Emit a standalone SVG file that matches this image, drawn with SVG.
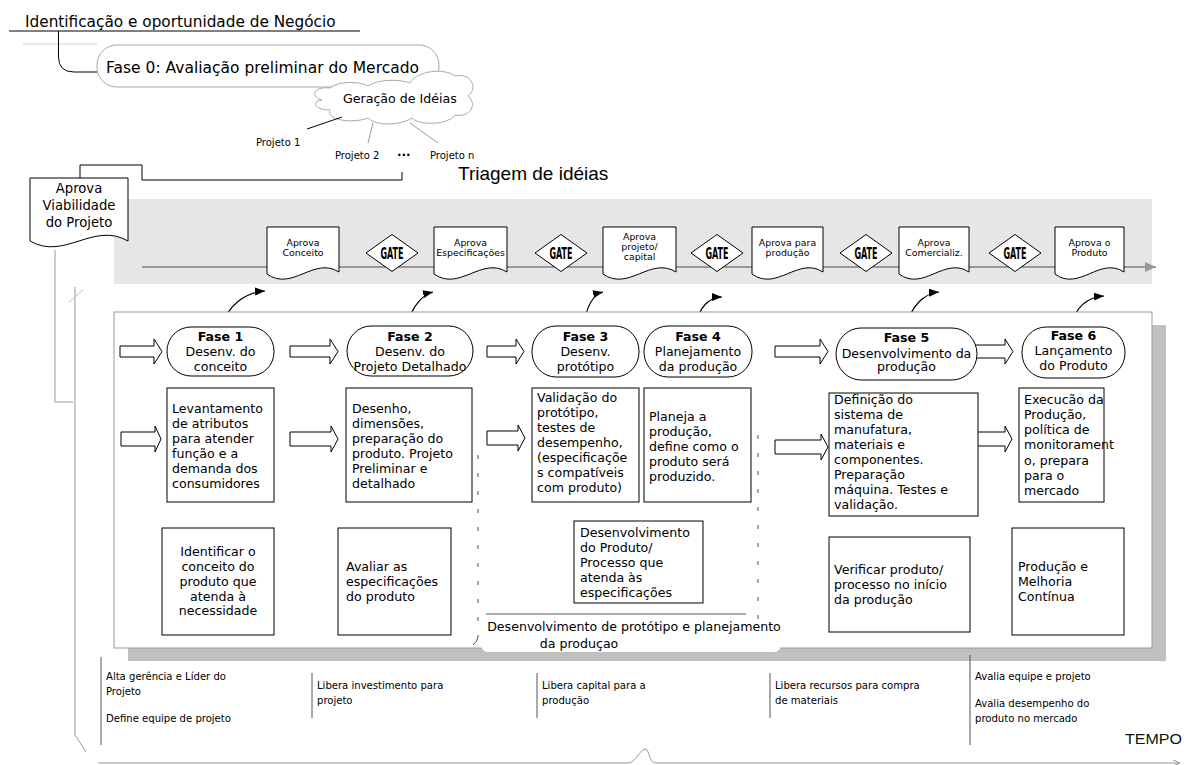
<svg xmlns="http://www.w3.org/2000/svg" width="1188" height="765" viewBox="0 0 1188 765">
  <style>
    .t { font-family: "DejaVu Sans", Verdana, sans-serif; fill: #000; }
    .node { font-size: 12.6px; }
    .doc { font-size: 9.4px; }
    .small { font-size: 10px; }
    .note { font-family: "DejaVu Sans Condensed", "DejaVu Sans", sans-serif; font-size: 11.2px; fill: #000; }
    .box { fill: #fff; stroke: #000; stroke-width: 1; }
    .stad { fill: #fff; stroke: #000; stroke-width: 1; }
    .docshape { fill: #fff; stroke: #000; stroke-width: 1; }
    .gate { fill: #fff; stroke: #000; stroke-width: 1; }
    .gtxt { font-family: "DejaVu Sans Condensed", "DejaVu Sans", sans-serif; font-weight: bold; font-size: 15.5px; }
    .barrow { fill: #fff; stroke: #000; stroke-width: 1; }
    .gray { fill: none; stroke: #999; stroke-width: 1; }
    .dark { fill: none; stroke: #000; stroke-width: 1; }
    .curve { fill: none; stroke: #000; stroke-width: 1.2; }
  </style>
  <defs>
    <marker id="tip" markerWidth="11" markerHeight="9" refX="10" refY="4" orient="auto" markerUnits="userSpaceOnUse">
      <path d="M0,0 L10,4 L0,8 Z" fill="#000"/>
    </marker>
    <marker id="gtip" markerWidth="12" markerHeight="11" refX="11" refY="5" orient="auto" markerUnits="userSpaceOnUse">
      <path d="M0,0 L11,5 L0,10 Z" fill="#999"/>
    </marker>
    <marker id="ltip" markerWidth="8" markerHeight="7" refX="7" refY="3" orient="auto" markerUnits="userSpaceOnUse">
      <path d="M0,0 L7,3 L0,6" fill="none" stroke="#999"/>
    </marker>
  </defs>

  <!-- header: business opportunity -->
  <g id="header">
    <text class="t" x="25" y="27" font-size="15.3">Identificação e oportunidade de Negócio</text>
    <line x1="9" y1="31" x2="360" y2="31" stroke="#000" stroke-width="1"/>
    <line x1="23" y1="44" x2="97" y2="44" stroke="#ccc" stroke-width="1"/>
  </g>

  <g id="fase0">
    <rect x="97" y="45" width="342" height="42" rx="20" ry="20" fill="#fff" stroke="#aaa" stroke-width="1"/>
    <text class="t" x="106" y="73" font-size="15.5">Fase 0: Avaliação preliminar do Mercado</text>
  </g>

  <g id="ideias">
    <path d="M322,100 C309,96 314,86 330,88 C338,81 360,81 368,86 C378,79 400,79 410,83 C418,70 445,68 455,76 C470,72 479,88 468,96 C478,104 470,118 455,115 C448,125 420,126 412,118 C400,126 375,126 368,118 C352,124 326,120 330,110 C314,110 311,101 322,100 Z" fill="#fff" stroke="#aaa" stroke-width="1"/>
    <text class="t" x="343" y="103" font-size="12.6">Geração de Idéias</text>
  </g>

  <g id="projetos">
    <line x1="307" y1="129" x2="342" y2="117" stroke="#000" stroke-width="1"/>
    <line x1="373" y1="123" x2="368" y2="143" stroke="#999" stroke-width="1"/>
    <line x1="410" y1="123" x2="438" y2="143" stroke="#999" stroke-width="1"/>
    <text class="t small" x="256" y="146">Projeto 1</text>
    <text class="t small" x="335" y="159">Projeto 2</text>
    <text class="t" x="397" y="156" font-size="12" font-weight="bold">...</text>
    <text class="t small" x="430" y="159">Projeto n</text>
  </g>

  <text id="triagem" x="458" y="180" font-family="'Liberation Sans', Arial, sans-serif" font-size="19">Triagem de idéias</text>

  <!-- gate band -->
  <g id="gate-band">
    <rect x="114" y="199" width="1038" height="85" fill="#e6e6e6"/>
    <line x1="142" y1="267" x2="1156" y2="267" stroke="#999" stroke-width="2" marker-end="url(#gtip)"/>
  </g>

  <!-- connectors -->
  <g id="connectors">
    <path class="dark" d="M58.5,31 V57 Q58.5,72 74,72 H97"/>
    <path class="dark" d="M402,172 V180 H142 V165 H80 V178"/>
    <path class="gray" d="M55,250 V402 H73"/>
    <path class="gray" d="M75,287 V735 L86,752"/>
    <line x1="69" y1="302" x2="83" y2="290" stroke="#bbb" stroke-width="1"/>
    <path class="curve" d="M222,326 C228,305 246,292 265,291" marker-end="url(#tip)"/>
    <path class="curve" d="M408,325 C411,306 424,294 433,292" marker-end="url(#tip)"/>
    <path class="curve" d="M585,325 C585,307 594,294 603,292" marker-end="url(#tip)"/>
    <path class="curve" d="M697,325 C698,307 710,297 722,297" marker-end="url(#tip)"/>
    <path class="curve" d="M907,327 C910,306 925,293 939,292" marker-end="url(#tip)"/>
    <path class="curve" d="M1072,327 C1074,307 1088,297 1104,296" marker-end="url(#tip)"/>
  </g>

  <!-- approval document: viability -->
  <g id="viabilidade">
    <path class="docshape" d="M30,178 H128 V241 C93.7,221 64.3,261 30,241 Z"/>
    <text class="t" x="79" y="193" font-size="13.2" text-anchor="middle">Aprova</text>
    <text class="t" x="79" y="210" font-size="13.2" text-anchor="middle">Viabilidade</text>
    <text class="t" x="79" y="227" font-size="13.2" text-anchor="middle">do Projeto</text>
  </g>

  <g id="doc1">
    <path class="docshape" d="M267,227 H339 V272 C313.8,256 292.2,292 267,274 Z"/>
    <text class="t doc" x="303" y="246" text-anchor="middle">Aprova</text>
    <text class="t doc" x="303" y="256" text-anchor="middle">Conceito</text>
  </g>
  <g id="gate1">
    <polygon class="gate" points="366,253 392,234.5 418,253 392,271.5"/>
    <text class="gtxt" x="392" y="258.5" text-anchor="middle" textLength="23" lengthAdjust="spacingAndGlyphs">GATE</text>
  </g>
  <g id="doc2">
    <path class="docshape" d="M434,227 H507 V272 C481.5,256 459.5,292 434,274 Z"/>
    <text class="t doc" x="470.5" y="246" text-anchor="middle">Aprova</text>
    <text class="t doc" x="470.5" y="256" text-anchor="middle">Especificações</text>
  </g>
  <g id="gate2">
    <polygon class="gate" points="535,253 561,234.5 587,253 561,271.5"/>
    <text class="gtxt" x="561" y="258.5" text-anchor="middle" textLength="23" lengthAdjust="spacingAndGlyphs">GATE</text>
  </g>
  <g id="doc3">
    <path class="docshape" d="M603,227 H676 V272 C650.5,256 628.5,292 603,274 Z"/>
    <text class="t doc" x="639.5" y="240" text-anchor="middle">Aprova</text>
    <text class="t doc" x="639.5" y="250" text-anchor="middle">projeto/</text>
    <text class="t doc" x="639.5" y="260" text-anchor="middle">capital</text>
  </g>
  <g id="gate3">
    <polygon class="gate" points="691,253 717,234.5 743,253 717,271.5"/>
    <text class="gtxt" x="717" y="258.5" text-anchor="middle" textLength="23" lengthAdjust="spacingAndGlyphs">GATE</text>
  </g>
  <g id="doc4">
    <path class="docshape" d="M752,227 H823 V272 C798.1,256 776.9,292 752,274 Z"/>
    <text class="t doc" x="787.5" y="246" text-anchor="middle">Aprova para</text>
    <text class="t doc" x="787.5" y="256" text-anchor="middle">produção</text>
  </g>
  <g id="gate4">
    <polygon class="gate" points="840,253 866,234.5 892,253 866,271.5"/>
    <text class="gtxt" x="866" y="258.5" text-anchor="middle" textLength="23" lengthAdjust="spacingAndGlyphs">GATE</text>
  </g>
  <g id="doc5">
    <path class="docshape" d="M899,227 H969 V272 C944.5,256 923.5,292 899,274 Z"/>
    <text class="t doc" x="934" y="246" text-anchor="middle">Aprova</text>
    <text class="t doc" x="934" y="256" text-anchor="middle">Comercializ.</text>
  </g>
  <g id="gate5">
    <polygon class="gate" points="989,253 1015,234.5 1041,253 1015,271.5"/>
    <text class="gtxt" x="1015" y="258.5" text-anchor="middle" textLength="23" lengthAdjust="spacingAndGlyphs">GATE</text>
  </g>
  <g id="doc6">
    <path class="docshape" d="M1055,227 H1124 V272 C1099.8,256 1079.2,292 1055,274 Z"/>
    <text class="t doc" x="1089.5" y="246" text-anchor="middle">Aprova o</text>
    <text class="t doc" x="1089.5" y="256" text-anchor="middle">Produto</text>
  </g>

  <!-- main process panel with shadow -->
  <g id="panel">
    <rect x="128" y="325" width="1038" height="336" fill="#c0c0c0"/>
    <rect x="114" y="312" width="1038" height="336" fill="#fff" stroke="#999" stroke-width="1"/>
  </g>

  <!-- prototype / production-planning zone -->
  <g id="zona-prototipo">
    <rect x="481" y="616" width="300" height="36" rx="7" fill="#fff"/>
    <line x1="478" y1="455" x2="478" y2="637" stroke="#555" stroke-width="1" stroke-dasharray="4,14"/>
    <path d="M478,637 Q477,642 473,645" fill="none" stroke="#555" stroke-width="1"/>
    <line x1="758" y1="435" x2="758" y2="620" stroke="#555" stroke-width="1" stroke-dasharray="4,14"/>
    <line x1="486" y1="614" x2="746" y2="614" stroke="#555" stroke-width="1"/>
    <text class="t node" x="634" y="631" text-anchor="middle">Desenvolvimento de protótipo e planejamento</text>
    <text class="t node" x="579" y="648" text-anchor="middle">da produçao</text>
  </g>

  <!-- hollow flow arrows -->
  <g id="flow-arrows">
    <polygon class="barrow" points="120,346 154,346 154,339 162,351.5 154,364 154,357 120,357"/>
    <polygon class="barrow" points="290,346 330,346 330,339 338,351.5 330,364 330,357 290,357"/>
    <polygon class="barrow" points="487,346 516,346 516,339 524,351.5 516,364 516,357 487,357"/>
    <polygon class="barrow" points="775,346 820,346 820,339 828,351.5 820,364 820,357 775,357"/>
    <polygon class="barrow" points="972,345 1005,345 1005,339 1013,351.5 1005,364 1005,358 972,358"/>
    <polygon class="barrow" points="121,432 155,432 155,426 161,439 155,452 155,446 121,446"/>
    <polygon class="barrow" points="290,432 331,432 331,426 338,439 331,452 331,446 290,446"/>
    <polygon class="barrow" points="487,431 518,431 518,425 525,438 518,451 518,445 487,445"/>
    <polygon class="barrow" points="775,440 821,440 821,434 828,447 821,460 821,454 775,454"/>
    <polygon class="barrow" points="977,432 1005,432 1005,426 1012,439 1005,452 1005,446 977,446"/>
  </g>

  <!-- phases -->
  <g id="fase1">
    <rect class="stad" x="167" y="327" width="107" height="49" rx="24" ry="24"/>
    <text class="t node" x="220.5" y="341" text-anchor="middle" font-weight="bold">Fase 1</text>
    <text class="t node" x="220.5" y="356" text-anchor="middle">Desenv. do</text>
    <text class="t node" x="220.5" y="371" text-anchor="middle">conceito</text>
  </g>
  <g id="fase2">
    <rect class="stad" x="347" y="326" width="126" height="50" rx="24" ry="25"/>
    <text class="t node" x="410" y="341" text-anchor="middle" font-weight="bold">Fase 2</text>
    <text class="t node" x="410" y="356" text-anchor="middle">Desenv. do</text>
    <text class="t node" x="410" y="371" text-anchor="middle">Projeto Detalhado</text>
  </g>
  <g id="fase3">
    <rect class="stad" x="532" y="326" width="107" height="51" rx="24" ry="25"/>
    <text class="t node" x="585.5" y="341" text-anchor="middle" font-weight="bold">Fase 3</text>
    <text class="t node" x="585.5" y="356" text-anchor="middle">Desenv.</text>
    <text class="t node" x="585.5" y="371" text-anchor="middle">protótipo</text>
  </g>
  <g id="fase4">
    <rect class="stad" x="644" y="326" width="108" height="51" rx="24" ry="25"/>
    <text class="t node" x="698" y="341" text-anchor="middle" font-weight="bold">Fase 4</text>
    <text class="t node" x="698" y="356" text-anchor="middle">Planejamento</text>
    <text class="t node" x="698" y="371" text-anchor="middle">da produção</text>
  </g>
  <g id="fase5">
    <rect class="stad" x="836" y="328" width="141" height="52" rx="25" ry="26"/>
    <text class="t node" x="906.5" y="342" text-anchor="middle" font-weight="bold">Fase 5</text>
    <text class="t node" x="906.5" y="358" text-anchor="middle">Desenvolvimento da</text>
    <text class="t node" x="906.5" y="371" text-anchor="middle">produção</text>
  </g>
  <g id="fase6">
    <rect class="stad" x="1022" y="327" width="103" height="51" rx="24" ry="25"/>
    <text class="t node" x="1073.5" y="340" text-anchor="middle" font-weight="bold">Fase 6</text>
    <text class="t node" x="1073.5" y="355" text-anchor="middle">Lançamento</text>
    <text class="t node" x="1073.5" y="370" text-anchor="middle">do Produto</text>
  </g>

  <!-- activity boxes -->
  <g id="atividade1">
    <rect class="box" x="167" y="388" width="107" height="114"/>
    <text class="t node" x="172" y="413">Levantamento</text>
    <text class="t node" x="172" y="428">de atributos</text>
    <text class="t node" x="172" y="443">para  atender</text>
    <text class="t node" x="172" y="458">função e a</text>
    <text class="t node" x="172" y="473">demanda dos</text>
    <text class="t node" x="172" y="488">consumidores</text>
  </g>
  <g id="atividade2">
    <rect class="box" x="346" y="388" width="126" height="114"/>
    <text class="t node" x="352" y="413">Desenho,</text>
    <text class="t node" x="352" y="428">dimensões,</text>
    <text class="t node" x="352" y="443">preparação do</text>
    <text class="t node" x="352" y="458">produto. Projeto</text>
    <text class="t node" x="352" y="473">Preliminar e</text>
    <text class="t node" x="352" y="488">detalhado</text>
  </g>
  <g id="atividade3">
    <rect class="box" x="532" y="388" width="107" height="114"/>
    <text class="t node" x="537" y="402">Validação do</text>
    <text class="t node" x="537" y="417">protótipo,</text>
    <text class="t node" x="537" y="432">testes de</text>
    <text class="t node" x="537" y="447">desempenho,</text>
    <text class="t node" x="537" y="462">(especificaçõe</text>
    <text class="t node" x="537" y="477">s compatíveis</text>
    <text class="t node" x="537" y="492">com  produto)</text>
  </g>
  <g id="atividade4">
    <rect class="box" x="644" y="388" width="107" height="114"/>
    <text class="t node" x="649" y="421">Planeja a</text>
    <text class="t node" x="649" y="436">produção,</text>
    <text class="t node" x="649" y="451">define como o</text>
    <text class="t node" x="649" y="466">produto será</text>
    <text class="t node" x="649" y="481">produzido.</text>
  </g>
  <g id="atividade5">
    <rect class="box" x="829" y="393" width="149" height="123"/>
    <text class="t node" x="834" y="404">Definição do</text>
    <text class="t node" x="834" y="419">sistema de</text>
    <text class="t node" x="834" y="434">manufatura,</text>
    <text class="t node" x="834" y="449">materiais e</text>
    <text class="t node" x="834" y="464">componentes.</text>
    <text class="t node" x="834" y="479">Preparação</text>
    <text class="t node" x="834" y="494">máquina. Testes e</text>
    <text class="t node" x="834" y="509">validação.</text>
  </g>
  <g id="atividade6">
    <rect class="box" x="1019" y="388" width="85" height="114"/>
    <text class="t node" x="1024" y="404">Execucão da</text>
    <text class="t node" x="1024" y="419">Produção,</text>
    <text class="t node" x="1024" y="434">política de</text>
    <text class="t node" x="1024" y="449">monitorament</text>
    <text class="t node" x="1024" y="465">o, prepara</text>
    <text class="t node" x="1024" y="480">para o</text>
    <text class="t node" x="1024" y="495">mercado</text>
  </g>

  <!-- gate criteria boxes -->
  <g id="criterio1">
    <rect class="box" x="162" y="528" width="112" height="107"/>
    <text class="t node" x="218" y="556" text-anchor="middle">Identificar o</text>
    <text class="t node" x="218" y="571" text-anchor="middle">conceito do</text>
    <text class="t node" x="218" y="586" text-anchor="middle">produto que</text>
    <text class="t node" x="218" y="601" text-anchor="middle">atenda à</text>
    <text class="t node" x="218" y="615" text-anchor="middle">necessidade</text>
  </g>
  <g id="criterio2">
    <rect class="box" x="338" y="528" width="113" height="107"/>
    <text class="t node" x="346" y="571">Avaliar  as</text>
    <text class="t node" x="346" y="586">especificações</text>
    <text class="t node" x="346" y="601">do produto</text>
  </g>
  <g id="criterio3">
    <rect class="box" x="574" y="521" width="129" height="82"/>
    <text class="t node" x="580" y="537">Desenvolvimento</text>
    <text class="t node" x="580" y="552">do Produto/</text>
    <text class="t node" x="580" y="567">Processo que</text>
    <text class="t node" x="580" y="582">atenda às</text>
    <text class="t node" x="580" y="597">especificações</text>
  </g>
  <g id="criterio4">
    <rect class="box" x="829" y="537" width="141" height="95"/>
    <text class="t node" x="834" y="574">Verificar produto/</text>
    <text class="t node" x="834" y="589">processo no início</text>
    <text class="t node" x="834" y="604">da produção</text>
  </g>
  <g id="criterio5">
    <rect class="box" x="1012" y="528" width="112" height="107"/>
    <text class="t node" x="1018" y="571">Produção e</text>
    <text class="t node" x="1018" y="586">Melhoria</text>
    <text class="t node" x="1018" y="601">Contínua</text>
  </g>

  <!-- management responsibilities along the time axis -->
  <g id="responsabilidades">
    <line x1="101" y1="657" x2="101" y2="745" stroke="#555" stroke-width="1"/>
    <line x1="312" y1="673" x2="312" y2="718" stroke="#555" stroke-width="1"/>
    <line x1="537" y1="673" x2="537" y2="718" stroke="#555" stroke-width="1"/>
    <line x1="770" y1="673" x2="770" y2="718" stroke="#555" stroke-width="1"/>
    <line x1="970" y1="655" x2="970" y2="745" stroke="#555" stroke-width="1"/>
    <text class="note" x="106" y="680">Alta gerência e Líder do</text>
    <text class="note" x="106" y="695">Projeto</text>
    <text class="note" x="106" y="722">Define equipe de projeto</text>
    <text class="note" x="317" y="689">Libera investimento para</text>
    <text class="note" x="317" y="704">projeto</text>
    <text class="note" x="542" y="689">Libera capital para a</text>
    <text class="note" x="542" y="704">produção</text>
    <text class="note" x="775" y="689">Libera recursos para compra</text>
    <text class="note" x="775" y="704">de materiais</text>
    <text class="note" x="975" y="680">Avalia equipe e projeto</text>
    <text class="note" x="975" y="707">Avalia desempenho do</text>
    <text class="note" x="975" y="722">produto no mercado</text>
  </g>

  <g id="tempo">
    <text x="1125" y="744" font-family="'Liberation Sans', Arial, sans-serif" font-size="15" fill="#111" textLength="57" lengthAdjust="spacingAndGlyphs">TEMPO</text>
    <path d="M98,763 H628 C636,763 640,749 645,749 C650,749 648,763 656,763 H1180" fill="none" stroke="#999" stroke-width="1" marker-end="url(#ltip)"/>
  </g>
</svg>
